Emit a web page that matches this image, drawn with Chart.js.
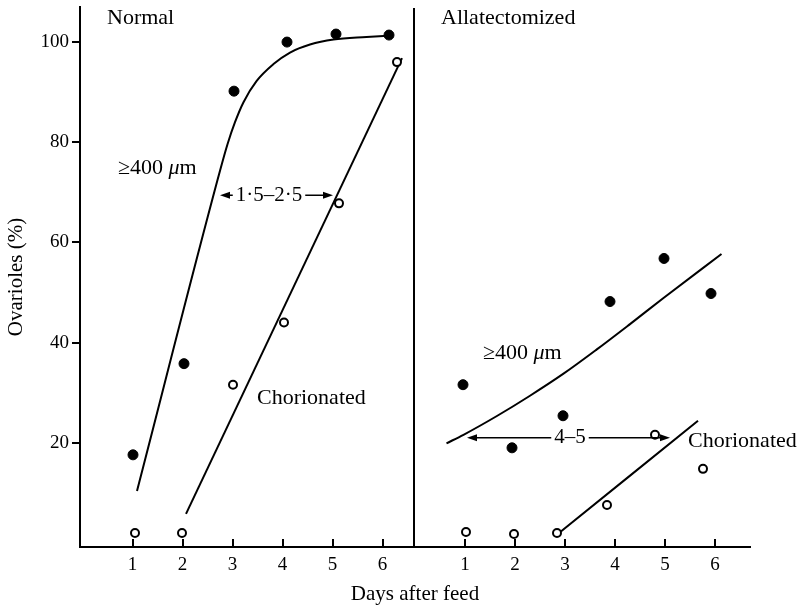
<!DOCTYPE html>
<html>
<head>
<meta charset="utf-8">
<script src="https://cdn.jsdelivr.net/npm/chart.js@4"></script>
<style>
    html, body { margin: 0; padding: 0; background: #fff; }
</style>
</head>
<body>
<canvas id="chart" width="803" height="607"></canvas>
<script>
// Axis ticks (each panel has its own 1-6 day axis)
const dayTicks = [1, 2, 3, 4, 5, 6];
const yTicks = [20, 40, 60, 80, 100];

// Normal panel: observed points
const normalBigDays = [1.01, 2.03, 3.03, 4.09, 5.07, 6.13];
const normalBigPct = [17.6, 35.8, 90.2, 100, 101.6, 101.4];
const normalChorDays = [1.05, 1.99, 3.01, 4.03, 5.13, 6.29];
const normalChorPct = [2, 2, 31.6, 44, 67.8, 96];
// Normal panel: hand-fitted curves
const normalBigFitDays = [1.09, 2.75, 2.9, 3.05, 3.22, 3.48, 3.82, 4.15, 4.55, 5.02, 5.68, 6.19];
const normalBigFitPct = [10.4, 74.3, 79.6, 84, 88, 92.2, 95.6, 97.9, 99.5, 100.5, 101, 101.3];
const normalChorFitDays = [2.07, 6.39];
const normalChorFitPct = [5.8, 96.8];

// Allatectomized panel: observed points
const allatBigDays = [0.96, 1.94, 2.96, 3.9, 4.98, 5.92];
const allatBigPct = [31.6, 19, 25.4, 48.2, 56.8, 49.8];
const allatChorDays = [1.02, 1.98, 2.84, 3.84, 4.8, 5.76];
const allatChorPct = [2.2, 1.8, 2, 7.6, 21.6, 14.8];
// Allatectomized panel: hand-fitted curves
const allatBigFitDays = [0.63, 0.97, 1.63, 2.3, 2.97, 3.63, 4.3, 4.97, 6.13];
const allatBigFitPct = [19.9, 21.6, 25.3, 29.4, 33.8, 38.6, 43.7, 48.9, 57.7];
const allatChorFitDays = [2.88, 5.66];
const allatChorFitPct = [2, 24.4];

// the second panel sits to the right of the first on one shared x scale
const PANEL_OFFSET = 6.65;
const DIVIDER_AT = 6.62;

// arrows between the two curves
const arrows = [
    { panel: 0, from: 2.75, to: 5.01, pct: 69.4, text: '1·5–2·5', at: 3.73 },
    { panel: 1, from: 1.04, to: 5.1, pct: 21, text: '4–5', at: 3.1 }
];
// text labels
const notes = [
    { panel: 0, day: 0.49, pct: 104.8, parts: [['Normal', false]] },
    { panel: 1, day: 0.52, pct: 104.8, parts: [['Allatectomized', false]] },
    { panel: 0, day: 0.71, pct: 74.8, parts: [['≥400 ', false], ['μ', true], ['m', false]] },
    { panel: 0, day: 3.49, pct: 29, parts: [['Chorionated', false]] },
    { panel: 1, day: 1.36, pct: 37.8, parts: [['≥400 ', false], ['μ', true], ['m', false]] },
    { panel: 1, day: 5.46, pct: 20.4, parts: [['Chorionated', false]] }
];

const FONT = "'Liberation Serif', 'Times New Roman', serif";
Chart.defaults.font.family = FONT;
Chart.defaults.color = '#000';

function pts(days, pct, panel) {
    return days.map((d, i) => ({ x: d + panel * PANEL_OFFSET, y: pct[i] }));
}

function filled(days, pct, panel) {
    return { data: pts(days, pct, panel), pointRadius: 5, pointBackgroundColor: '#000',
        pointBorderColor: '#000', pointBorderWidth: 1, showLine: false };
}
function open(days, pct, panel) {
    return { data: pts(days, pct, panel), pointRadius: 4, pointBackgroundColor: '#fff',
        pointBorderColor: '#000', pointBorderWidth: 2, showLine: false };
}
function curve(days, pct, panel) {
    return { data: pts(days, pct, panel), pointRadius: 0, showLine: true, borderColor: '#000',
        borderWidth: 2, cubicInterpolationMode: 'monotone' };
}

function drawArrowHead(ctx, x, y, dir) {
    ctx.beginPath();
    ctx.moveTo(x, y);
    ctx.lineTo(x - dir * 10, y - 3.5);
    ctx.lineTo(x - dir * 10, y + 3.5);
    ctx.closePath();
    ctx.fill();
}

const panelArt = {
    id: 'panelArt',
    beforeDatasetsDraw(chart) {
        const { ctx, chartArea, scales: { x } } = chart;
        ctx.save();
        ctx.strokeStyle = '#000';
        ctx.lineWidth = 2;
        // divider between panels
        const dx = Math.round(x.getPixelForValue(DIVIDER_AT));
        ctx.beginPath();
        ctx.moveTo(dx, chartArea.top + 1);
        ctx.lineTo(dx, chartArea.bottom);
        ctx.stroke();
        // day ticks point up into the plot
        x.ticks.forEach(t => {
            const px = Math.round(x.getPixelForValue(t.value));
            ctx.beginPath();
            ctx.moveTo(px, chartArea.bottom);
            ctx.lineTo(px, chartArea.bottom - 8);
            ctx.stroke();
        });
        ctx.restore();
    },
    afterDatasetsDraw(chart) {
        const { ctx, scales: { x, y } } = chart;
        ctx.save();
        ctx.fillStyle = '#000';
        ctx.strokeStyle = '#000';
        ctx.textBaseline = 'middle';

        arrows.forEach(a => {
            const off = a.panel * PANEL_OFFSET;
            const x1 = x.getPixelForValue(a.from + off);
            const x2 = x.getPixelForValue(a.to + off);
            const yy = y.getPixelForValue(a.pct);
            const cx = x.getPixelForValue(a.at + off);
            ctx.font = '21px ' + FONT;
            const w = ctx.measureText(a.text).width + 6;
            ctx.lineWidth = 1.5;
            ctx.beginPath();
            ctx.moveTo(x1 + 4, yy);
            ctx.lineTo(cx - w / 2, yy);
            ctx.moveTo(cx + w / 2, yy);
            ctx.lineTo(x2 - 4, yy);
            ctx.stroke();
            drawArrowHead(ctx, x1, yy, -1);
            drawArrowHead(ctx, x2, yy, 1);
            ctx.textAlign = 'center';
            ctx.fillText(a.text, cx, yy);
        });

        ctx.textAlign = 'left';
        notes.forEach(n => {
            let px = x.getPixelForValue(n.day + n.panel * PANEL_OFFSET);
            const py = y.getPixelForValue(n.pct);
            n.parts.forEach(([txt, ital]) => {
                ctx.font = (ital ? 'italic ' : '') + '22px ' + FONT;
                ctx.fillText(txt, px, py);
                px += ctx.measureText(txt).width;
            });
        });
        ctx.restore();
    }
};

const ctx = document.getElementById('chart').getContext('2d');
new Chart(ctx, {
    type: 'scatter',
    data: {
        datasets: [
            filled(normalBigDays, normalBigPct, 0),
            open(normalChorDays, normalChorPct, 0),
            filled(allatBigDays, allatBigPct, 1),
            open(allatChorDays, allatChorPct, 1),
            curve(normalBigFitDays, normalBigFitPct, 0),
            curve(normalChorFitDays, normalChorFitPct, 0),
            curve(allatBigFitDays, allatBigFitPct, 1),
            curve(allatChorFitDays, allatChorFitPct, 1)
        ]
    },
    options: {
        responsive: false,
        animation: false,
        devicePixelRatio: 1,
        layout: { padding: { top: 7, right: 53, left: 0, bottom: 0 } },
        plugins: { legend: { display: false }, tooltip: { enabled: false } },
        scales: {
            x: {
                type: 'linear',
                min: -0.05,
                max: 13.35,
                afterBuildTicks: s => {
                    s.ticks = dayTicks.map(d => ({ value: d }))
                        .concat(dayTicks.map(d => ({ value: d + PANEL_OFFSET })));
                },
                afterFit: s => {
                    s.height = 60;
                    s.paddingLeft = 0;
                    s.paddingRight = 0;
                },
                grid: { display: false, drawTicks: false },
                border: { display: true, color: '#000', width: 2 },
                ticks: {
                    autoSkip: false,
                    maxRotation: 0,
                    padding: 7,
                    font: { size: 19 },
                    callback: (v, i) => String(dayTicks[i % dayTicks.length])
                },
                title: {
                    display: true,
                    text: 'Days after feed',
                    font: { size: 21 },
                    padding: { top: 0, bottom: 0 }
                }
            },
            y: {
                min: -0.8,
                max: 107,
                afterBuildTicks: s => { s.ticks = yTicks.map(v => ({ value: v })); },
                afterFit: s => {
                    s.width = 80;
                    s.paddingTop = 0;
                    s.paddingBottom = 0;
                },
                grid: { display: true, drawOnChartArea: false, drawTicks: true, tickLength: 8,
                    color: '#000', lineWidth: 2 },
                border: { display: true, color: '#000', width: 2 },
                ticks: { padding: 3, font: { size: 19 } },
                title: {
                    display: true,
                    text: 'Ovarioles (%)',
                    font: { size: 21 },
                    padding: { top: 4, bottom: 0 }
                }
            }
        }
    },
    plugins: [panelArt]
});
</script>
</body>
</html>
